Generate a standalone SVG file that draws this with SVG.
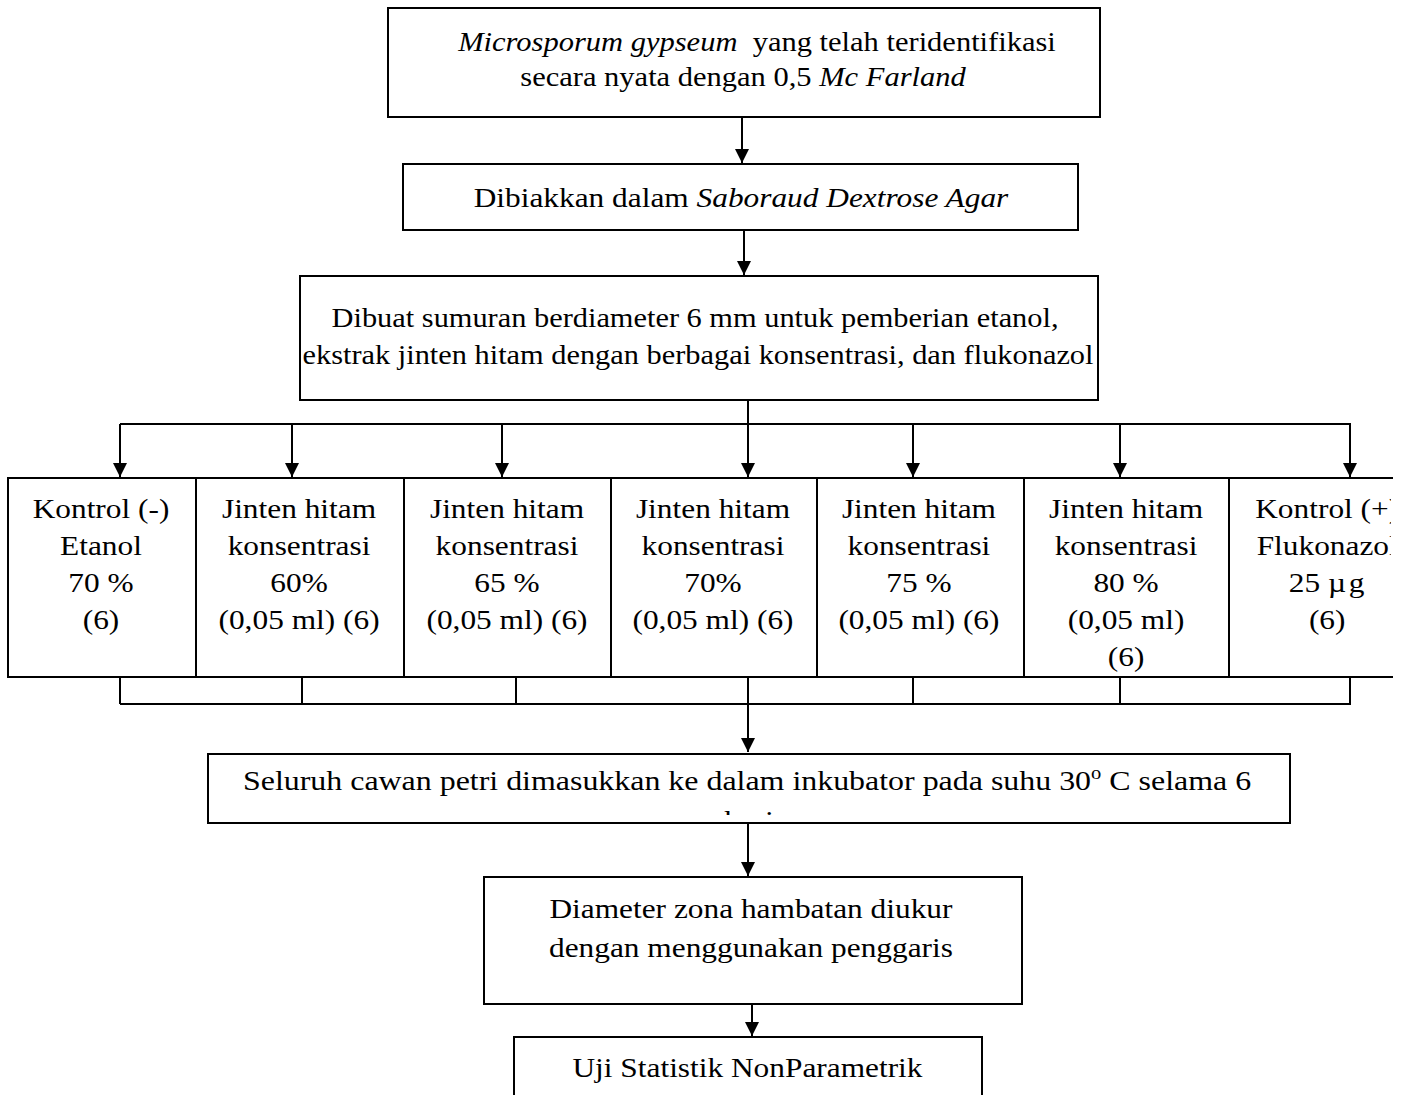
<svg xmlns="http://www.w3.org/2000/svg" width="1406" height="1095" viewBox="0 0 1406 1095">
<style>
.box{fill:#fff;stroke:#000;stroke-width:2}
.ln{fill:none;stroke:#000;stroke-width:2}
text{font-family:"Liberation Serif","Times New Roman",serif;font-size:28px;fill:#000;text-anchor:middle}
.i{font-style:italic}
</style>
<defs>
<marker id="ah" markerUnits="userSpaceOnUse" markerWidth="14" markerHeight="16" refX="14" refY="7" orient="auto">
<path d="M0,0 L14,7 L0,14 Z" fill="#000"/>
</marker>
<clipPath id="c7"><rect x="1229" y="470" width="162" height="215"/></clipPath>
<clipPath id="cinc"><rect x="200" y="745" width="1100" height="70"/></clipPath>
</defs>
<rect width="1406" height="1095" fill="#fff"/>

<g id="connectors">
<path class="ln" d="M742 117 V163" marker-end="url(#ah)"/>
<path class="ln" d="M744 230 V275" marker-end="url(#ah)"/>
<path class="ln" d="M748 400 V424"/>
<path class="ln" d="M120 424 H1351"/>
<path class="ln" d="M120 424 V477" marker-end="url(#ah)"/>
<path class="ln" d="M292 424 V477" marker-end="url(#ah)"/>
<path class="ln" d="M502 424 V477" marker-end="url(#ah)"/>
<path class="ln" d="M748 424 V477" marker-end="url(#ah)"/>
<path class="ln" d="M913 424 V477" marker-end="url(#ah)"/>
<path class="ln" d="M1120 424 V477" marker-end="url(#ah)"/>
<path class="ln" d="M1350 424 V477" marker-end="url(#ah)"/>
<path class="ln" d="M120 677 V704 M302 677 V704 M516 677 V704 M748 677 V704 M913 677 V704 M1120 677 V704 M1350 677 V704"/>
<path class="ln" d="M120 704 H1351"/>
<path class="ln" d="M748 704 V752" marker-end="url(#ah)"/>
<path class="ln" d="M748 823 V876" marker-end="url(#ah)"/>
<path class="ln" d="M752 1004 V1036" marker-end="url(#ah)"/>
</g>

<g id="n1">
<rect class="box" x="388" y="8" width="712" height="109"/>
<g transform="scale(1.09 1)">
<text x="694.5" y="51" xml:space="preserve"><tspan class="i">Microsporum gypseum</tspan>  yang telah teridentifikasi</text>
<text x="681.7" y="86">secara nyata dengan 0,5 <tspan class="i">Mc Farland</tspan></text>
</g>
</g>

<g id="n2">
<rect class="box" x="403" y="164" width="675" height="66"/>
<g transform="scale(1.12 1)">
<text x="661.6" y="207">Dibiakkan dalam <tspan class="i">Saboraud Dextrose Agar</tspan></text>
</g>
</g>

<g id="n3">
<rect class="box" x="300" y="276" width="798" height="124"/>
<g transform="scale(1.085 1)">
<text x="640.6" y="327">Dibuat sumuran berdiameter 6 mm untuk pemberian etanol,</text>
<text x="643.3" y="364">ekstrak jinten hitam dengan berbagai konsentrasi, dan flukonazol</text>
</g>
</g>

<g id="r1">
<rect class="box" x="8" y="478" width="188" height="199"/>
<g transform="scale(1.12 1)">
<text x="90.2" y="518">Kontrol (-)</text>
<text x="90.2" y="555">Etanol</text>
<text x="90.2" y="592">70 %</text>
<text x="90.2" y="629">(6)</text>
</g>
</g>

<g id="r2">
<rect class="box" x="196" y="478" width="208" height="199"/>
<g transform="scale(1.12 1)">
<text x="267" y="518">Jinten hitam</text>
<text x="267" y="555">konsentrasi</text>
<text x="267" y="592">60%</text>
<text x="267" y="629">(0,05 ml) (6)</text>
</g>
</g>

<g id="r3">
<rect class="box" x="404" y="478" width="207" height="199"/>
<g transform="scale(1.12 1)">
<text x="452.7" y="518">Jinten hitam</text>
<text x="452.7" y="555">konsentrasi</text>
<text x="452.7" y="592">65 %</text>
<text x="452.7" y="629">(0,05 ml) (6)</text>
</g>
</g>

<g id="r4">
<rect class="box" x="611" y="478" width="206" height="199"/>
<g transform="scale(1.12 1)">
<text x="636.6" y="518">Jinten hitam</text>
<text x="636.6" y="555">konsentrasi</text>
<text x="636.6" y="592">70%</text>
<text x="636.6" y="629">(0,05 ml) (6)</text>
</g>
</g>

<g id="r5">
<rect class="box" x="817" y="478" width="207" height="199"/>
<g transform="scale(1.12 1)">
<text x="820.5" y="518">Jinten hitam</text>
<text x="820.5" y="555">konsentrasi</text>
<text x="820.5" y="592">75 %</text>
<text x="820.5" y="629">(0,05 ml) (6)</text>
</g>
</g>

<g id="r6">
<rect class="box" x="1024" y="478" width="205" height="199"/>
<g transform="scale(1.12 1)">
<text x="1005.4" y="518">Jinten hitam</text>
<text x="1005.4" y="555">konsentrasi</text>
<text x="1005.4" y="592">80 %</text>
<text x="1005.4" y="629">(0,05 ml)</text>
<text x="1005.4" y="666">(6)</text>
</g>
</g>

<g id="r7">
<path class="ln" d="M1229 478 H1393 M1229 677 H1393 M1229 478 V677"/>
<g clip-path="url(#c7)">
<g transform="scale(1.12 1)">
<text x="1185" y="518">Kontrol (+)</text>
<text x="1185" y="555">Flukonazol</text>
<text x="1184.5" y="592">25 µ&#8202;g</text>
<text x="1185" y="629">(6)</text>
</g>
</g>
</g>

<g id="n4">
<rect class="box" x="208" y="754" width="1082" height="69"/>
<g transform="scale(1.14 1)">
<text x="655.3" y="790">Seluruh cawan petri dimasukkan ke dalam inkubator pada suhu 30<tspan font-size="18" dy="-11">o</tspan><tspan dy="11"> C selama 6</tspan></text>
</g>
<g clip-path="url(#cinc)">
<g transform="scale(1.14 1)">
<text x="657" y="830">hari</text>
</g>
</g>
</g>

<g id="n5">
<rect class="box" x="484" y="877" width="538" height="127"/>
<g transform="scale(1.12 1)">
<text x="670.5" y="918">Diameter zona hambatan diukur</text>
<text x="670.5" y="957">dengan menggunakan penggaris</text>
</g>
</g>

<g id="n6">
<rect class="box" x="514" y="1037" width="468" height="80"/>
<g transform="scale(1.12 1)">
<text x="667.4" y="1077">Uji Statistik NonParametrik</text>
</g>
</g>
</svg>
